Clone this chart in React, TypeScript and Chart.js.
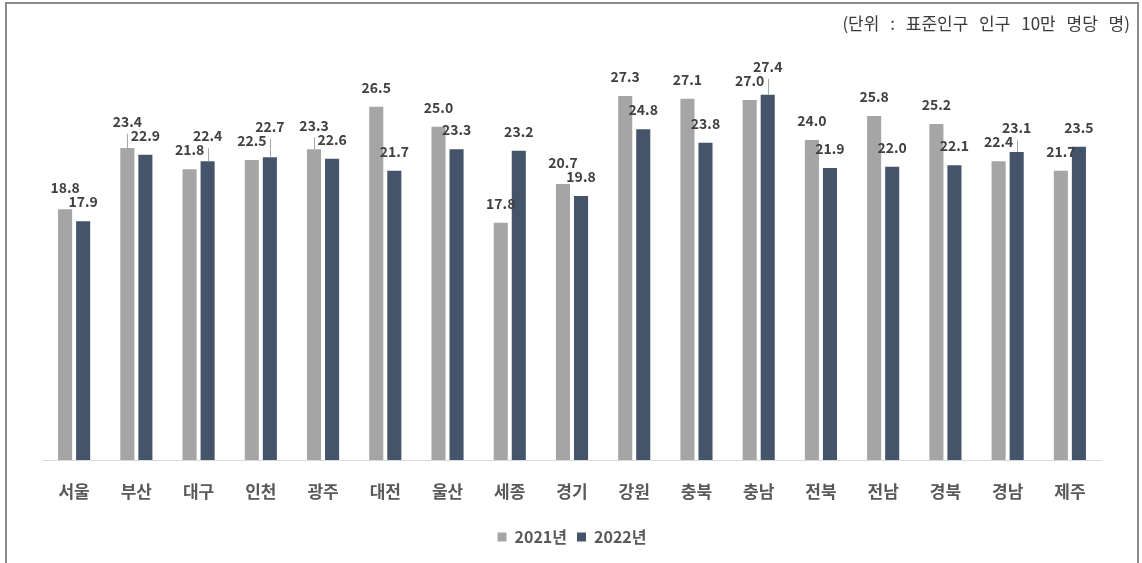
import React, { useEffect, useRef } from "react";
import { Chart, registerables } from "chart.js";

Chart.register(...registerables);

const categories = ["서울", "부산", "대구", "인천", "광주", "대전", "울산", "세종", "경기", "강원", "충북", "충남", "전북", "전남", "경북", "경남", "제주"];
const seriesNames = ["2021년", "2022년"];
const values2021 = [18.8, 23.4, 21.8, 22.5, 23.3, 26.5, 25.0, 17.8, 20.7, 27.3, 27.1, 27.0, 24.0, 25.8, 25.2, 22.4, 21.7];
const values2022 = [17.9, 22.9, 22.4, 22.7, 22.6, 21.7, 23.3, 23.2, 19.8, 24.8, 23.8, 27.4, 21.9, 22.0, 22.1, 23.1, 23.5];
const unitNote = "(단위 : 표준인구 인구 10만 명당 명)";

const FONT = "'Noto Sans CJK KR', 'Noto Sans', sans-serif";
const COLOR_2021 = "#A5A5A5";
const COLOR_2022 = "#44546A";

const labelPlugin = {
  id: "barValueLabels",
  afterDatasetsDraw(chart: any) {
    const ctx = chart.ctx;
    const m0 = chart.getDatasetMeta(0).data;
    const m1 = chart.getDatasetMeta(1).data;
    const d0 = chart.data.datasets[0].data as number[];
    const d1 = chart.data.datasets[1].data as number[];
    const gap = 14;
    ctx.save();
    ctx.font = `bold 14px ${FONT}`;
    ctx.textAlign = "center";
    ctx.textBaseline = "alphabetic";
    for (let i = 0; i < m0.length; i++) {
      const b0 = m0[i];
      const b1 = m1[i];
      let y0 = b0.y - gap;
      let y1 = b1.y - gap;
      if (d0[i] >= d1[i]) {
        y0 = Math.min(y0, y1 - 14);
      } else {
        y1 = Math.min(y1, y0 - 14);
      }
      const items = [
        { bar: b0, y: y0, v: d0[i] },
        { bar: b1, y: y1, v: d1[i] },
      ];
      for (const it of items) {
        if (it.bar.y - it.y > 18) {
          ctx.strokeStyle = "#A6A6A6";
          ctx.lineWidth = 1;
          ctx.beginPath();
          ctx.moveTo(Math.round(it.bar.x) + 0.5, it.bar.y);
          ctx.lineTo(Math.round(it.bar.x) + 0.5, it.y + 7);
          ctx.stroke();
        }
        ctx.fillStyle = "#404040";
        ctx.fillText(it.v.toFixed(1), it.bar.x, it.y);
      }
    }
    ctx.restore();
  },
};

export default function App() {
  const canvasRef = useRef<HTMLCanvasElement | null>(null);

  useEffect(() => {
    const canvas = canvasRef.current;
    if (!canvas) return;
    const chart = new Chart(canvas, {
      type: "bar",
      data: {
        labels: categories,
        datasets: [
          {
            label: seriesNames[0],
            data: values2021,
            backgroundColor: COLOR_2021,
            categoryPercentage: 0.58,
            barPercentage: 0.78,
          },
          {
            label: seriesNames[1],
            data: values2022,
            backgroundColor: COLOR_2022,
            categoryPercentage: 0.58,
            barPercentage: 0.78,
          },
        ],
      },
      options: {
        responsive: false,
        animation: false,
        devicePixelRatio: 1,
        layout: { padding: { left: 43, right: 41, top: 60, bottom: 8 } },
        scales: {
          y: { display: false, min: 0, max: 30 },
          x: {
            grid: { display: false, drawTicks: false },
            border: { display: true, color: "#D9D9D9", width: 1 },
            ticks: {
              padding: 21,
              color: "#595959",
              font: { family: FONT, size: 17, weight: "bold" },
            },
            afterFit(scale: any) {
              scale.height = 59;
            },
          },
        },
        plugins: {
          legend: {
            position: "bottom",
            labels: {
              boxWidth: 9,
              boxHeight: 9,
              padding: 10,
              color: "#595959",
              font: { family: FONT, size: 16, weight: "bold" },
            },
          },
          tooltip: { enabled: false },
        },
      },
      plugins: [labelPlugin],
    });
    return () => chart.destroy();
  }, []);

  return (
    <div style={{ position: "absolute", left: 0, top: 0, width: 1142, height: 563, background: "#fff", overflow: "hidden" }}>
      <div
        style={{
          position: "absolute",
          left: 5,
          top: 2,
          width: 1134,
          height: 620,
          boxSizing: "border-box",
          borderLeft: "2px solid #8C8C8C",
          borderTop: "2px solid #8C8C8C",
          borderRight: "2px solid #8C8C8C",
        }}
      />
      <canvas ref={canvasRef} width={1142} height={563} style={{ position: "absolute", left: 0, top: 0 }} />
      <div
        style={{
          position: "absolute",
          right: 12,
          top: 12,
          fontFamily: FONT,
          fontSize: 17,
          lineHeight: "22px",
          wordSpacing: 7,
          color: "#3A3A3A",
          whiteSpace: "pre",
        }}
      >
        {unitNote}
      </div>
    </div>
  );
}
